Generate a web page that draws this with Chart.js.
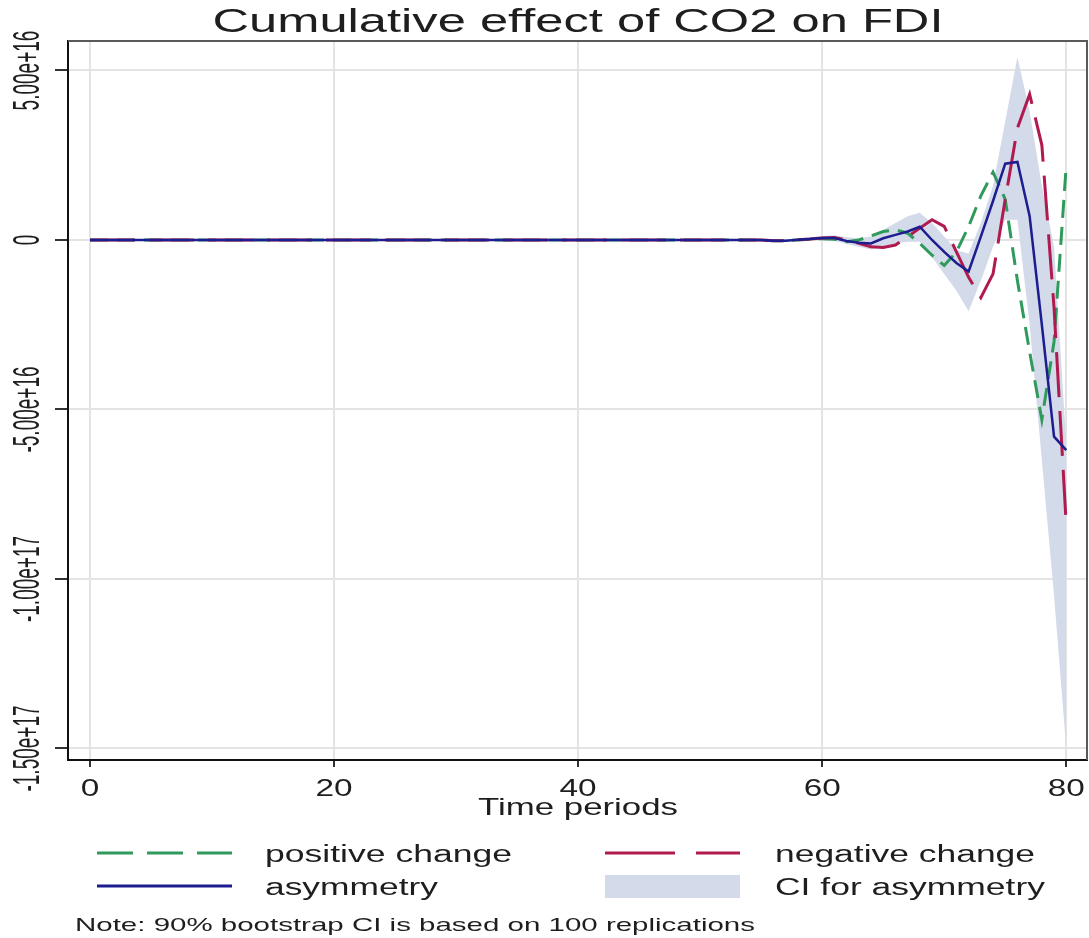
<!DOCTYPE html>
<html>
<head>
<meta charset="utf-8">
<title>Cumulative effect of CO2 on FDI</title>
<script src="https://cdn.jsdelivr.net/npm/chart.js@4/dist/chart.umd.min.js"></script>
<style>
    html, body { margin: 0; padding: 0; background: #fff; }
    #wrap { width: 1089px; height: 938px; position: relative; }
</style>
</head>
<body>
<div id="wrap"><canvas id="effectChart"></canvas></div>
<script>
// all series are in units of 1e16
var periods = Array.from({ length: 81 }, function (_, i) { return i; });

var asymmetry = [
    0, 0, 0, 0, 0, 0, 0, 0, 0, 0,
    0, 0, 0, 0, 0, 0, 0, 0, 0, 0,
    0, 0, 0, 0, 0, 0, 0, 0, 0, 0,
    0, 0, 0, 0, 0, 0, 0, 0, 0, 0,
    0, 0, 0, 0, 0, 0, 0, 0, 0, 0,
    0, 0, 0, 0, 0, 0, -0.02, -0.02, 0.01, 0.03,
    0.06, 0.06, -0.03, -0.08, -0.1, 0.05, 0.15, 0.25, 0.39, 0.0,
    -0.35, -0.68, -0.93, 0.1, 1.15, 2.25, 2.3, 0.7, -2.5, -5.8,
    -6.2
];

var positiveChange = [
    0, 0, 0, 0, 0, 0, 0, 0, 0, 0,
    0, 0, 0, 0, 0, 0, 0, 0, 0, 0,
    0, 0, 0, 0, 0, 0, 0, 0, 0, 0,
    0, 0, 0, 0, 0, 0, 0, 0, 0, 0,
    0, 0, 0, 0, 0, 0, 0, 0, 0, 0,
    0, 0, 0, 0, 0, 0, -0.02, -0.02, 0, 0.02,
    0.04, 0.02, -0.05, 0.0, 0.12, 0.25, 0.3, 0.2, -0.1, -0.45,
    -0.75, -0.35, 0.4, 1.3, 2.0, 1.2, -1.2, -3.3, -5.3, -3.0,
    2.2
];

var negativeChange = [
    0, 0, 0, 0, 0, 0, 0, 0, 0, 0,
    0, 0, 0, 0, 0, 0, 0, 0, 0, 0,
    0, 0, 0, 0, 0, 0, 0, 0, 0, 0,
    0, 0, 0, 0, 0, 0, 0, 0, 0, 0,
    0, 0, 0, 0, 0, 0, 0, 0, 0, 0,
    0, 0, 0, 0, 0, 0, -0.02, -0.02, 0.01, 0.03,
    0.06, 0.07, 0.0, -0.1, -0.2, -0.22, -0.15, 0.1, 0.35, 0.6,
    0.4, -0.35, -1.1, -1.7, -1.0, 1.2, 3.3, 4.3, 2.8, -2.0,
    -8.4
];

var ciUpper = [
    0, 0, 0, 0, 0, 0, 0, 0, 0, 0,
    0, 0, 0, 0, 0, 0, 0, 0, 0, 0,
    0, 0, 0, 0, 0, 0, 0, 0, 0, 0,
    0, 0, 0, 0, 0, 0, 0, 0, 0, 0,
    0, 0, 0, 0, 0, 0, 0, 0, 0, 0,
    0.01, 0.01, 0.01, 0.01, 0.01, 0.02, 0.02, 0.02, 0.04, 0.08,
    0.12, 0.14, 0.08, 0.05, 0.1, 0.3, 0.5, 0.7, 0.8, 0.5,
    0.1, -0.3, -0.4, 0.5, 1.6, 3.5, 5.4, 3.8, 1.6, -0.2,
    -6.0
];

var ciLower = [
    0, 0, 0, 0, 0, 0, 0, 0, 0, 0,
    0, 0, 0, 0, 0, 0, 0, 0, 0, 0,
    0, 0, 0, 0, 0, 0, 0, 0, 0, 0,
    0, 0, 0, 0, 0, 0, 0, 0, 0, 0,
    0, 0, 0, 0, 0, 0, 0, 0, 0, 0,
    -0.01, -0.01, -0.01, -0.01, -0.02, -0.04, -0.06, -0.05, -0.03, 0.0,
    0.0, -0.02, -0.12, -0.2, -0.28, -0.2, -0.1, -0.05, -0.05, -0.5,
    -1.0, -1.5, -2.1, -1.2, -0.2, 0.6, 0.6, -2.5, -6.5, -10.5,
    -15.0
];

var xTicks = [0, 20, 40, 60, 80];
var xTickLabels = ["0", "20", "40", "60", "80"];
var yTicks = [5, 0, -5, -10, -15];
var yTickLabels = ["5.00e+16", "0", "-5.00e+16", "-1.00e+17", "-1.50e+17"];

var FONT = "'Liberation Sans', Arial, sans-serif";
var GREEN = "#2f9a5c";
var RED = "#b01a4e";
var BLUE = "#1d1d8f";
var CI_FILL = "#d3dae9";

function toPoints(values) {
    return periods.map(function (t, i) { return { x: t, y: values[i] }; });
}

// the picture is stretched sideways, so text is drawn with a horizontal scale
function drawText(ctx, text, x, y, size, sx, align) {
    ctx.save();
    ctx.font = size + "px " + FONT;
    ctx.fillStyle = "#1e1e1e";
    ctx.textAlign = align || "left";
    ctx.textBaseline = "alphabetic";
    ctx.translate(x, y);
    ctx.scale(sx, 1);
    ctx.fillText(text, 0, 0);
    ctx.restore();
}

function fitText(ctx, text, x, y, size, width, align) {
    ctx.save();
    ctx.font = size + "px " + FONT;
    var natural = ctx.measureText(text).width;
    ctx.restore();
    drawText(ctx, text, x, y, size, width / natural, align);
}

function legendLine(ctx, x1, x2, y, color, width, dash) {
    ctx.save();
    ctx.strokeStyle = color;
    ctx.lineWidth = width;
    ctx.setLineDash(dash);
    ctx.beginPath();
    ctx.moveTo(x1, y);
    ctx.lineTo(x2, y);
    ctx.stroke();
    ctx.restore();
}

var decorPlugin = {
    id: "decor",
    afterDraw: function (chart) {
        var ctx = chart.ctx;
        var area = chart.chartArea;

        // top and right frame
        ctx.save();
        ctx.strokeStyle = "#5a5a5a";
        ctx.lineWidth = 2;
        ctx.beginPath();
        ctx.moveTo(area.left, area.top);
        ctx.lineTo(area.right, area.top);
        ctx.lineTo(area.right, area.bottom);
        ctx.stroke();
        ctx.restore();

        // title
        fitText(ctx, "Cumulative effect of CO2 on FDI", 578, 32, 34, 731, "center");

        // y tick labels, rotated
        var ys = chart.scales.y;
        yTicks.forEach(function (v, i) {
            var py = ys.getPixelForValue(v);
            ctx.save();
            ctx.font = "19px " + FONT;
            ctx.fillStyle = "#1e1e1e";
            ctx.textAlign = "center";
            ctx.textBaseline = "middle";
            ctx.translate(29, py);
            ctx.rotate(-Math.PI / 2);
            ctx.scale(1, 1.9);
            ctx.fillText(yTickLabels[i], 0, 0);
            ctx.restore();
        });

        // x tick labels
        var xs = chart.scales.x;
        xTicks.forEach(function (v, i) {
            drawText(ctx, xTickLabels[i], xs.getPixelForValue(v), 796, 23, 1.45, "center");
        });
        fitText(ctx, "Time periods", 578, 815, 24, 200, "center");

        // legend
        legendLine(ctx, 97, 232, 853, GREEN, 3, [36, 14]);
        fitText(ctx, "positive change", 265, 862, 23, 247);
        legendLine(ctx, 605, 740, 853, RED, 3, [70, 21]);
        fitText(ctx, "negative change", 775, 862, 23, 260);
        legendLine(ctx, 97, 232, 886, BLUE, 3, []);
        fitText(ctx, "asymmetry", 265, 895, 23, 173);
        ctx.fillStyle = CI_FILL;
        ctx.fillRect(605, 875, 135, 23);
        fitText(ctx, "CI for asymmetry", 775, 895, 23, 270);

        fitText(ctx, "Note: 90% bootstrap CI is based on 100 replications", 75, 931, 19, 680);
    }
};

function createChart() {
    var ctx = document.getElementById("effectChart").getContext("2d");

    var gridOpts = {
        color: "#e4e4e4",
        lineWidth: 2,
        drawTicks: true,
        tickColor: "#333333",
        tickWidth: 2
    };

    new Chart(ctx, {
        type: "line",
        data: {
            datasets: [
                {
                    label: "asymmetry",
                    data: toPoints(asymmetry),
                    borderColor: BLUE,
                    borderWidth: 2.5,
                    pointRadius: 0,
                    fill: false,
                    order: 1
                },
                {
                    label: "negative change",
                    data: toPoints(negativeChange),
                    borderColor: RED,
                    borderWidth: 3,
                    borderDash: [45, 14],
                    pointRadius: 0,
                    fill: false,
                    order: 2
                },
                {
                    label: "positive change",
                    data: toPoints(positiveChange),
                    borderColor: GREEN,
                    borderWidth: 3,
                    borderDash: [18, 9],
                    pointRadius: 0,
                    fill: false,
                    order: 3
                },
                {
                    label: "CI upper",
                    data: toPoints(ciUpper),
                    borderColor: "rgba(0,0,0,0)",
                    borderWidth: 0,
                    backgroundColor: CI_FILL,
                    pointRadius: 0,
                    fill: "+1",
                    order: 10
                },
                {
                    label: "CI lower",
                    data: toPoints(ciLower),
                    borderColor: "rgba(0,0,0,0)",
                    borderWidth: 0,
                    pointRadius: 0,
                    fill: false,
                    order: 11
                }
            ]
        },
        options: {
            responsive: true,
            maintainAspectRatio: false,
            animation: false,
            layout: { padding: { top: 41, right: 2, bottom: 0, left: 0 } },
            scales: {
                x: {
                    type: "linear",
                    position: "bottom",
                    min: -1.8,
                    max: 81.7,
                    grid: Object.assign({}, gridOpts, { tickLength: 7 }),
                    border: { display: true, color: "#111111", width: 2 },
                    ticks: { display: false },
                    afterBuildTicks: function (scale) {
                        scale.ticks = xTicks.map(function (v) { return { value: v }; });
                    },
                    afterFit: function (scale) { scale.height = 178; }
                },
                y: {
                    type: "linear",
                    min: -15.34,
                    max: 5.87,
                    grid: Object.assign({}, gridOpts, { tickLength: 13 }),
                    border: { display: true, color: "#111111", width: 2 },
                    ticks: { display: false },
                    afterBuildTicks: function (scale) {
                        scale.ticks = yTicks.map(function (v) { return { value: v }; });
                    },
                    afterFit: function (scale) { scale.width = 68; }
                }
            },
            plugins: {
                legend: { display: false },
                tooltip: { enabled: false },
                title: { display: false }
            }
        },
        plugins: [decorPlugin]
    });
}

createChart();
</script>
</body>
</html>
